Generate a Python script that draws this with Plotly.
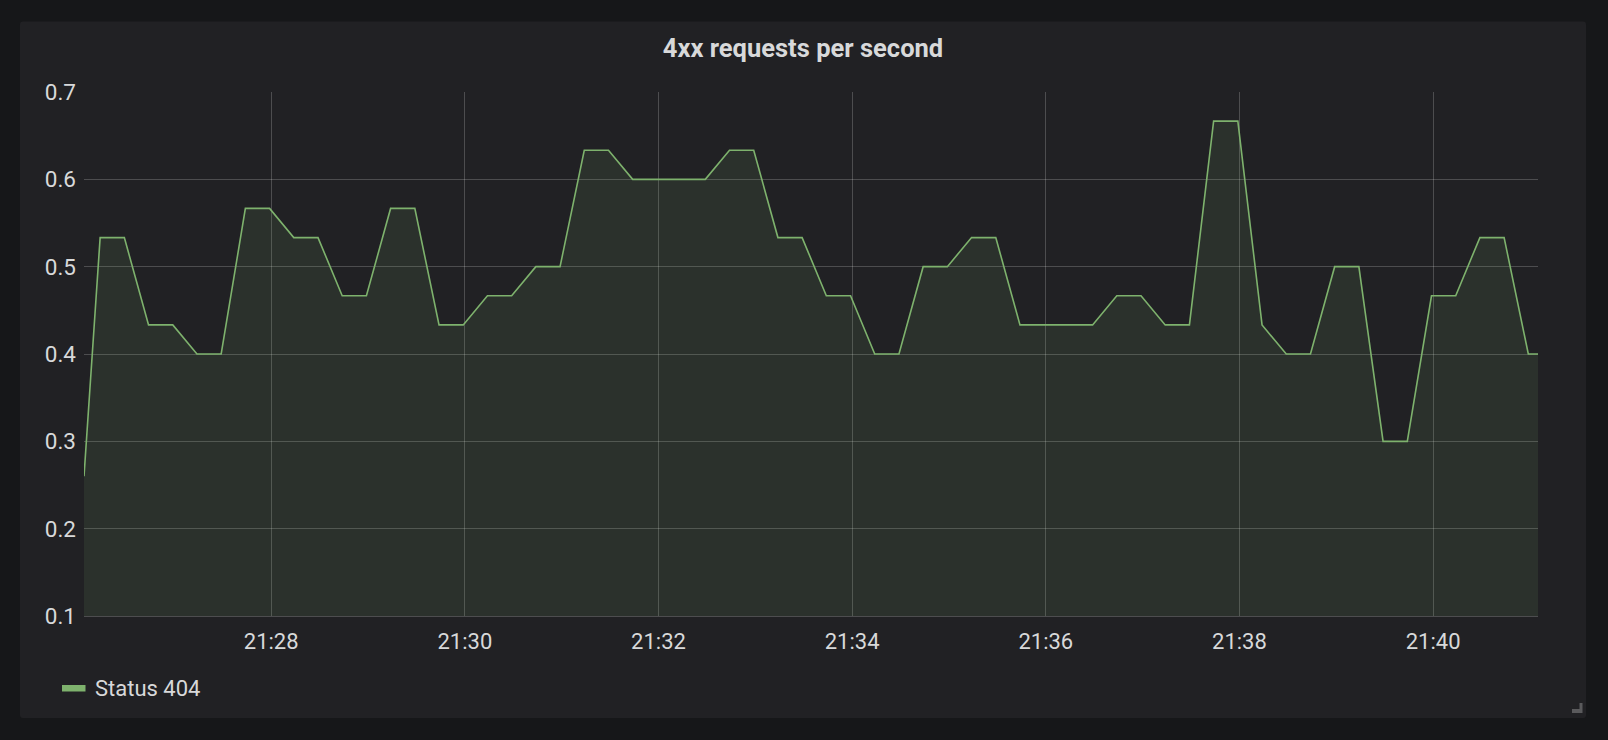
import plotly.graph_objects as go
import pandas as pd

# ---------------- data ----------------
title_text = "4xx requests per second"
series_name = "Status 404"
day = "2018-01-01"
range_start = "21:26:04"
range_end = "21:41:05"
first_sample = "21:26:14"
step_seconds = 15

edge_start_value = 0.26
edge_end_value = 0.40
values = [
    0.5333, 0.5333, 0.4333, 0.4333, 0.4000, 0.4000, 0.5667, 0.5667, 0.5333, 0.5333,
    0.4667, 0.4667, 0.5667, 0.5667, 0.4333, 0.4333, 0.4667, 0.4667, 0.5000, 0.5000,
    0.6333, 0.6333, 0.6000, 0.6000, 0.6000, 0.6000, 0.6333, 0.6333, 0.5333, 0.5333,
    0.4667, 0.4667, 0.4000, 0.4000, 0.5000, 0.5000, 0.5333, 0.5333, 0.4333, 0.4333,
    0.4333, 0.4333, 0.4667, 0.4667, 0.4333, 0.4333, 0.6667, 0.6667, 0.4333, 0.4000,
    0.4000, 0.5000, 0.5000, 0.3000, 0.3000, 0.4667, 0.4667, 0.5333, 0.5333, 0.4000,
]
x_tick_labels = ["21:28", "21:30", "21:32", "21:34", "21:36", "21:38", "21:40"]
y_ticks = [0.1, 0.2, 0.3, 0.4, 0.5, 0.6, 0.7]

# ---------------- build ----------------
t_start = pd.Timestamp(f"{day} {range_start}")
t_end = pd.Timestamp(f"{day} {range_end}")
t_first = pd.Timestamp(f"{day} {first_sample}")
sample_times = [t_first + pd.Timedelta(seconds=step_seconds * i) for i in range(len(values))]
times = [t_start] + sample_times + [t_end]
ys = [edge_start_value] + values + [edge_end_value]
tick_vals = [pd.Timestamp(f"{day} {t}") for t in x_tick_labels]

W, H = 1608, 740
ML, MR, MT, MB = 84, 70, 92, 124
PW, PH = W - ML - MR, H - MT - MB


def px_x(px):
    return (px - ML) / PW


def px_y(py):
    return (H - MB - py) / PH


FONT = "Roboto, 'Open Sans', sans-serif"
TEXT = "#d8d9da"
GRID = "rgba(255,255,255,0.2)"
LINE = "#7EB26D"

fig = go.Figure()
fig.add_trace(go.Scatter(
    x=times, y=ys, mode="lines", name=series_name,
    line=dict(color=LINE, width=1.6),
    fill="tozeroy", fillcolor="rgba(126,178,109,0.11)",
    showlegend=False, hoverinfo="x+y",
))

# panel with rounded corners
pl, pr, ptop, pbot = 20, 1586, 21.5, 718
r = 3
xl, xr = px_x(pl), px_x(pr)
yt, yb = px_y(ptop), px_y(pbot)
rx, ry = r / PW, r / PH
panel_path = (
    f"M {xl+rx},{yt} L {xr-rx},{yt} Q {xr},{yt} {xr},{yt-ry} "
    f"L {xr},{yb+ry} Q {xr},{yb} {xr-rx},{yb} L {xl+rx},{yb} "
    f"Q {xl},{yb} {xl},{yb+ry} L {xl},{yt-ry} Q {xl},{yt} {xl+rx},{yt} Z"
)
shapes = [
    dict(type="path", xref="paper", yref="paper", path=panel_path,
         fillcolor="#212124", line=dict(width=0), layer="below"),
    # legend swatch
    dict(type="rect", xref="paper", yref="paper",
         x0=px_x(62), x1=px_x(85.5), y0=px_y(691.5), y1=px_y(685),
         fillcolor=LINE, line=dict(width=0), layer="above"),
    # resize handle
    dict(type="path", xref="paper", yref="paper",
         path=(f"M {px_x(1579.5)},{px_y(703)} L {px_x(1582.5)},{px_y(703)} "
               f"L {px_x(1582.5)},{px_y(713)} L {px_x(1572)},{px_y(713)} "
               f"L {px_x(1572)},{px_y(709)} L {px_x(1579.5)},{px_y(709)} Z"),
         fillcolor="#5a5a5c", line=dict(width=0), layer="above"),
]

fig.update_layout(
    width=W, height=H,
    margin=dict(l=ML, r=MR, t=MT, b=MB),
    paper_bgcolor="#161719",
    plot_bgcolor="rgba(0,0,0,0)",
    font=dict(family=FONT, color=TEXT, size=22),
    title=dict(text=title_text, x=803 / W, xref="container", xanchor="center",
               y=1 - 48 / H, yref="container", yanchor="middle",
               font=dict(family=FONT, size=25.5, color=TEXT, weight="bold")),
    showlegend=False,
    shapes=shapes,
    annotations=[dict(text=series_name, xref="paper", yref="paper",
                      x=px_x(92.5), y=px_y(688.5), xanchor="left", yanchor="middle",
                      showarrow=False, font=dict(family=FONT, size=22, color=TEXT))],
    xaxis=dict(
        type="date", range=[t_start, t_end],
        tickvals=tick_vals, ticktext=x_tick_labels,
        showgrid=True, gridcolor=GRID, gridwidth=1,
        showline=True, linecolor=GRID, linewidth=1,
        ticks="", ticklabelstandoff=6, zeroline=False,
        tickfont=dict(family=FONT, size=22, color=TEXT),
    ),
    yaxis=dict(
        range=[0.1, 0.7], tickvals=y_ticks, tickformat=".1f",
        showgrid=True, gridcolor=GRID, gridwidth=1,
        ticks="", ticklabelstandoff=7, zeroline=False, showline=False,
        tickfont=dict(family=FONT, size=22.5, color=TEXT),
    ),
)

fig.write_html(
    "out.html",
    config={"displayModeBar": False},
    post_script="document.body.style.margin='0';document.body.style.background='#161719';",
)
